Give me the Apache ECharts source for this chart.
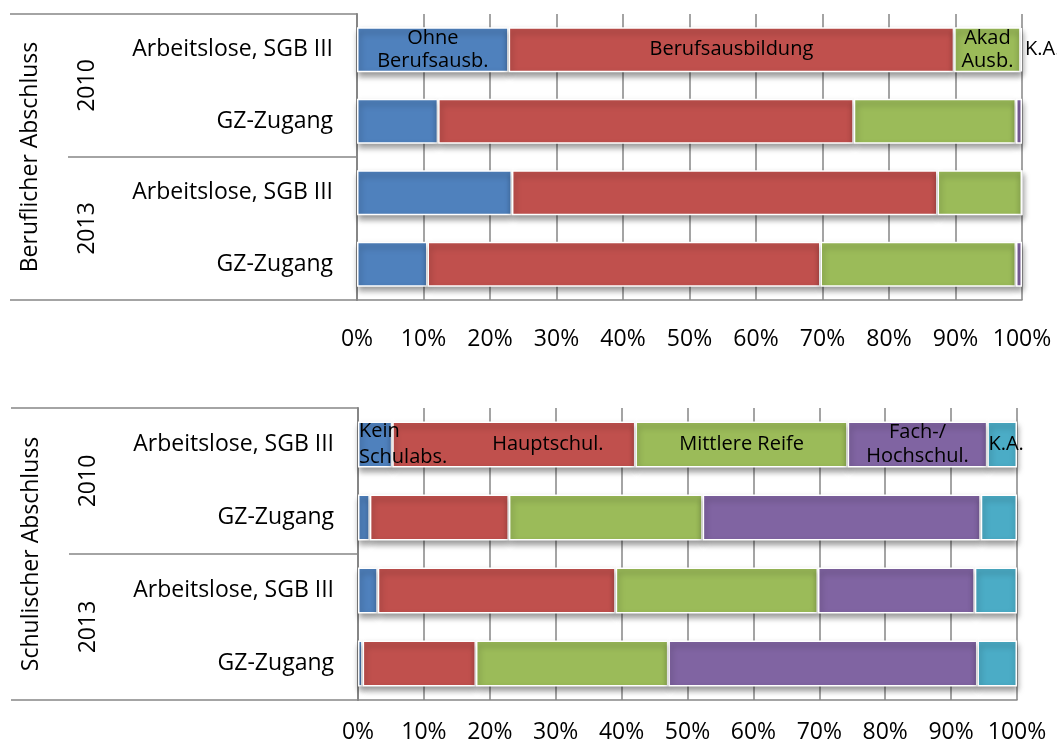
<!DOCTYPE html>
<html><head><meta charset="utf-8">
<script src="https://cdn.jsdelivr.net/npm/echarts@6/dist/echarts.min.js"></script>
<style>html,body{margin:0;padding:0;background:#fff}#c{width:1057px;height:745px}</style>
</head><body><div id="c"></div>
<script>
// ---- data ----
const rowLabels = ['Arbeitslose, SGB III', 'GZ-Zugang', 'Arbeitslose, SGB III', 'GZ-Zugang'];
const years = ['2010', '2013'];
const topGroup = ['Beruflicher Abschluss'];
const bottomGroup = ['Schulischer Abschluss'];
const xTickFormat = '{value}%';

// Beruflicher Abschluss (% per row)
const topNames = ['Ohne Berufsausb.', 'Berufsausbildung', 'Akad Ausb.', 'K.A.'];
const topLabels = ['Ohne\nBerufsausb.', 'Berufsausbildung', 'Akad\nAusb.', 'K.A.'];
const ohneBerufsausb = [22.8, 12.2, 23.3, 10.6];
const berufsausbildung = [67.0, 62.5, 64.0, 59.1];
const akadAusb = [10.0, 24.4, 12.7, 29.4];
const kaBeruf = [0.2, 0.9, 0.0, 0.9];

// Schulischer Abschluss (% per row)
const bottomNames = ['Kein Schulabs.', 'Hauptschul.', 'Mittlere Reife', 'Fach-/Hochschul.', 'K.A.'];
const bottomLabels = ['Kein\nSchulabs.', 'Hauptschul.', 'Mittlere Reife', 'Fach-/\nHochschul.', 'K.A.'];
const keinSchulabs = [5.2, 1.8, 3.0, 0.7];
const hauptschul = [36.9, 21.1, 36.1, 17.2];
const mittlereReife = [32.2, 29.4, 30.7, 29.2];
const fachHochschul = [21.2, 42.2, 23.8, 46.9];
const kaSchul = [4.5, 5.5, 6.4, 6.0];

// ---- styling ----
const FONT = 'Open Sans';
const colors = ['#4F81BD', '#C0504D', '#9BBB59', '#8064A2', '#4BACC6'];
const gray = '#868686';
const lineStyle = { color: gray, width: 1.5 };

const topSeriesData = [ohneBerufsausb, berufsausbildung, akadAusb, kaBeruf];
const bottomSeriesData = [keinSchulabs, hauptschul, mittlereReife, fachHochschul, kaSchul];

const topLabelStyles = [
  { position: 'inside', lineHeight: 23 },
  { position: 'inside' },
  { position: 'inside', lineHeight: 23 },
  { position: 'right', distance: 3 }
];
const bottomLabelStyles = [
  { position: 'insideLeft', distance: 1, lineHeight: 26, align: 'left' },
  { position: 'inside', offset: [34, 0] },
  { position: 'inside' },
  { position: 'inside', lineHeight: 24 },
  { position: 'inside', offset: [4, 0] }
];

const chart = echarts.init(document.getElementById('c'), null, { renderer: 'canvas' });

function xAxisFor(g, margin) {
  return {
    gridIndex: g, type: 'value', min: 0, max: 100, interval: 10,
    axisLabel: { formatter: xTickFormat, fontSize: 23, color: '#000', margin: margin, fontFamily: FONT },
    axisLine: { show: true, lineStyle: lineStyle },
    axisTick: { show: false },
    splitLine: { show: true, lineStyle: lineStyle }
  };
}
function yAxesFor(g, group) {
  return [
    {
      gridIndex: g, type: 'category', data: rowLabels, inverse: true, position: 'left',
      axisLine: { show: true, lineStyle: lineStyle }, axisTick: { show: false },
      axisLabel: { fontSize: 23, color: '#000', margin: 24, fontFamily: FONT, interval: 0 },
      splitLine: { show: false }
    },
    {
      gridIndex: g, type: 'category', data: years, inverse: true, position: 'left',
      axisLine: { show: true, lineStyle: lineStyle },
      axisTick: { show: true, length: 289, lineStyle: lineStyle },
      axisLabel: { rotate: 90, fontSize: 23, color: '#000', margin: 258, fontFamily: FONT, interval: 0 },
      splitLine: { show: false }
    },
    {
      gridIndex: g, type: 'category', data: group, inverse: true, position: 'left',
      axisLine: { show: true, lineStyle: lineStyle },
      axisTick: { show: true, length: 347, lineStyle: lineStyle },
      axisLabel: { rotate: 90, fontSize: 23, color: '#000', margin: 315, fontFamily: FONT, interval: 0 },
      splitLine: { show: false }
    }
  ];
}
function seriesFor(g, names, labels, datas, labelStyles, stack, barWidth) {
  return datas.map((arr, k) => ({
    type: 'bar', name: names[k], stack: stack,
    xAxisIndex: g, yAxisIndex: g * 3,
    barWidth: barWidth,
    itemStyle: {
      color: colors[k], borderColor: '#fff', borderWidth: 1.5,
      shadowColor: 'rgba(0,0,0,0.4)', shadowBlur: 6, shadowOffsetY: 4, shadowOffsetX: 1
    },
    label: { show: false },
    data: arr.map((v, i) => i === 0 ? {
      value: v,
      label: Object.assign({
        show: true, formatter: labels[k], color: '#000', fontSize: 20, fontFamily: FONT
      }, labelStyles[k])
    } : v)
  }));
}

chart.setOption({
  animation: false,
  textStyle: { fontFamily: FONT },
  grid: [
    { left: 357, top: 14, width: 665, height: 286, containLabel: false, outerBoundsMode: 'none' },
    { left: 358, top: 408, width: 659, height: 292, containLabel: false, outerBoundsMode: 'none' }
  ],
  xAxis: [xAxisFor(0, 28), xAxisFor(1, 21)],
  yAxis: yAxesFor(0, topGroup).concat(yAxesFor(1, bottomGroup)),
  series: seriesFor(0, topNames, topLabels, topSeriesData, topLabelStyles, 'beruf', 45)
    .concat(seriesFor(1, bottomNames, bottomLabels, bottomSeriesData, bottomLabelStyles, 'schul', 46))
});
</script>
</body></html>
